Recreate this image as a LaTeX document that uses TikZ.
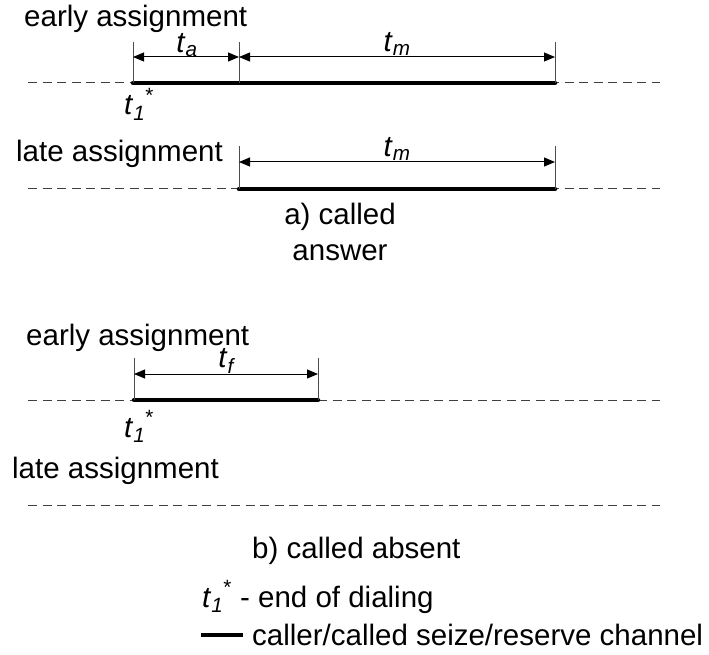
\documentclass[tikz,border=0pt]{standalone}
\usepackage{fontspec}
\setmainfont{Liberation Sans}
\usetikzlibrary{arrows.meta}
\newcommand\tsub[1]{\textit{t}\textsubscript{\textit{#1}}}
\newcommand\tstar{\textit{t}\textsubscript{\textit{1}}\raisebox{0.25ex}{\textsuperscript{*}}}
\begin{document}
\begin{tikzpicture}[x=1pt,y=-1pt,
  every node/.style={inner sep=0pt, font=\fontsize{29.5}{35}\selectfont},
  lbl/.style={anchor=base west},
  clbl/.style={anchor=base},
  dashline/.style={draw=black!75, line width=1pt, dash pattern=on 9pt off 5.5pt},
  busy/.style={draw=black, line width=4.5pt, line cap=round},
  tickline/.style={draw=black!70, line width=1pt},
  dimarrow/.style={draw=black, line width=1pt, {Triangle[length=11pt,width=9pt]}-{Triangle[length=11pt,width=9pt]}}]
\useasboundingbox (0,0) rectangle (709,655);

% ---- a) row 1: early assignment
\node[lbl] (e1) at (24,27) {early assignment};
\coordinate (r1L) at (28,83);
\coordinate (r1a) at (133,83);
\coordinate (r1b) at (239,83);
\coordinate (r1c) at (555,83);
\coordinate (r1R) at (660,83);
\coordinate (r1aT) at (133,42);
\coordinate (r1bT) at (239,42);
\coordinate (r1cT) at (555,42);
\draw[dashline] (r1L) -- (r1R);
\draw[busy] (r1a) -- (r1c);
\draw[tickline] (r1a) -- (r1aT);
\draw[tickline] (r1b) -- (r1bT);
\draw[tickline] (r1c) -- (r1cT);
\coordinate (r1aA) at (133,57);
\coordinate (r1bA) at (239,57);
\coordinate (r1cA) at (555,57);
\draw[dimarrow] (r1aA) -- (r1bA);
\draw[dimarrow] (r1bA) -- (r1cA);
\node[clbl] (ta) at (187,53) {\tsub{a}};
\node[clbl] (tm1) at (397,52) {\tsub{m}};
\node[lbl] (t1a) at (124,115) {\tstar};

% ---- a) row 2: late assignment
\node[lbl] (l1) at (16,162) {late assignment};
\coordinate (r2L) at (28,189);
\coordinate (r2b) at (239,189);
\coordinate (r2c) at (555,189);
\coordinate (r2R) at (660,189);
\coordinate (r2bT) at (239,146);
\coordinate (r2cT) at (555,146);
\draw[dashline] (r2L) -- (r2R);
\draw[busy] (r2b) -- (r2c);
\draw[tickline] (r2b) -- (r2bT);
\draw[tickline] (r2c) -- (r2cT);
\coordinate (r2bA) at (239,162);
\coordinate (r2cA) at (555,162);
\draw[dimarrow] (r2bA) -- (r2cA);
\node[clbl] (tm2) at (397,157) {\tsub{m}};

\node[clbl] (capa1) at (340,225) {a) called};
\node[clbl] (capa2) at (340,260) {answer};

% ---- b) row 1: early assignment
\node[lbl] (e2) at (26,345) {early assignment};
\coordinate (r3L) at (28,400);
\coordinate (r3a) at (134,400);
\coordinate (r3f) at (318,400);
\coordinate (r3R) at (660,400);
\coordinate (r3aT) at (134,358);
\coordinate (r3fT) at (318,358);
\draw[dashline] (r3L) -- (r3R);
\draw[busy] (r3a) -- (r3f);
\draw[tickline] (r3a) -- (r3aT);
\draw[tickline] (r3f) -- (r3fT);
\coordinate (r3aA) at (134,374);
\coordinate (r3fA) at (318,374);
\draw[dimarrow] (r3aA) -- (r3fA);
\node[clbl] (tf) at (227,367) {\tsub{f}};
\node[lbl] (t1b) at (124,437) {\tstar};

% ---- b) row 2: late assignment
\node[lbl] (l2) at (12,478) {late assignment};
\coordinate (r4L) at (28,505);
\coordinate (r4R) at (660,505);
\draw[dashline] (r4L) -- (r4R);

\node[lbl] (capb) at (252,558) {b) called absent};

% ---- legend
\node[lbl] (leg1) at (202,607) {\tstar{} - end of dialing};
\coordinate (legL) at (201,635);
\coordinate (legR) at (243,635);
\draw[busy, line cap=butt] (legL) -- (legR);
\node[lbl] (leg2) at (252,645) {caller/called seize/reserve channel};
\end{tikzpicture}
\end{document}
